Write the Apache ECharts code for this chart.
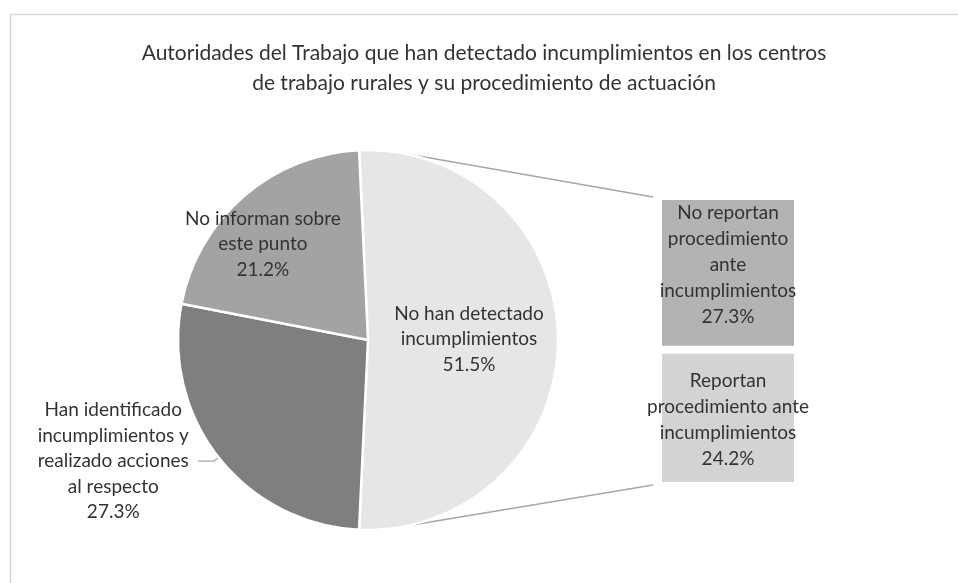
<!DOCTYPE html>
<html>
<head>
<meta charset="utf-8">
<script src="https://cdn.jsdelivr.net/npm/echarts@6/dist/echarts.min.js"></script>
<style>
html,body{margin:0;padding:0;background:#fff;}
#c{width:958px;height:583px;}
</style>
</head>
<body>
<div id="c"></div>
<script>
const titleText = 'Autoridades del Trabajo que han detectado incumplimientos en los centros\nde trabajo rurales y su procedimiento de actuación';
const pieNames = ['No han detectado\nincumplimientos', 'Han identificado\nincumplimientos y\nrealizado acciones\nal respecto', 'No informan sobre\neste punto'];
const pieValues = [51.5, 27.3, 21.2];
const barNames = ['Reportan\nprocedimiento ante\nincumplimientos', 'No reportan\nprocedimiento\nante\nincumplimientos'];
const barValues = [24.2, 27.3];

const FONT = 'Lato';
const TXT = '#333333';
const pieColors = ['#e6e6e6', '#7f7f7f', '#a3a3a3'];
const barColors = ['#d3d3d3', '#b3b3b3'];

const cx = 368, cy = 340, R = 190;
const gLeft = 658, gTop = 196, gW = 140, gH = 290;

const chart = echarts.init(document.getElementById('c'), null, {renderer: 'canvas'});

const pieData = pieValues.map((v, i) => {
  const d = {value: v, name: pieNames[i], itemStyle: {color: pieColors[i]}};
  if (i === 0) {
    d.label = {position: 'inside', offset: [3, -1]};
  } else if (i === 2) {
    d.label = {position: 'inside', offset: [-41, -22]};
  } else {
    d.label = {position: 'outside', distanceToLabelLine: 9};
    d.labelLine = {show: true, length: 6, length2: 16, lineStyle: {color: '#a6a6a6', width: 1.3}};
  }
  return d;
});

const fmtPct = v => v.toFixed(1) + '%';
const borderRect = {type: 'rect', z: -10, shape: {x: 10.5, y: 14.5, width: 960, height: 600}, style: {fill: 'none', stroke: '#d9d9d9', lineWidth: 1.5}};

const option = {
  backgroundColor: '#ffffff',
  animation: false,
  title: {
    text: titleText,
    left: 479,
    top: 33,
    textAlign: 'center',
    textStyle: {fontFamily: FONT, fontWeight: 'normal', fontSize: 21, lineHeight: 30, color: TXT}
  },
  graphic: [borderRect],
  grid: {left: gLeft, top: gTop, width: gW, height: gH},
  xAxis: {type: 'category', data: ['x'], show: false},
  yAxis: {type: 'value', min: 0, max: barValues.reduce((a, b) => a + b, 0), show: false},
  series: [
    {
      type: 'pie',
      center: [cx, cy],
      radius: [0, R],
      startAngle: pieValues[0] * 180 / 100,
      clockwise: true,
      avoidLabelOverlap: false,
      z: 5,
      itemStyle: {borderColor: '#ffffff', borderWidth: 2.5},
      label: {
        fontFamily: FONT, fontSize: 19, lineHeight: 26, color: TXT,
        formatter: p => '{t|' + p.name.split('\n').join('}\n{t|') + '}\n{t|' + fmtPct(p.value) + '}',
        rich: {t: {align: 'center', fontFamily: FONT, fontSize: 19, lineHeight: 25.5, color: TXT}}
      },
      labelLine: {show: false},
      emphasis: {disabled: true},
      data: pieData
    },
    ...barValues.map((v, i) => ({
      type: 'bar',
      stack: 'b',
      barWidth: '100%',
      data: [v],
      name: barNames[i],
      itemStyle: {color: barColors[i], borderColor: '#ffffff', borderWidth: 4},
      label: {
        show: true,
        position: 'inside',
        offset: i === 1 ? [0, -8] : [0, 2],
        fontFamily: FONT, fontSize: 19, lineHeight: 26, color: TXT,
        formatter: () => barNames[i] + '\n' + fmtPct(v)
      },
      emphasis: {disabled: true}
    }))
  ]
};
chart.setOption(option);

// connector lines from the pie's "other" slice to the bar corners
const topBar = chart.convertToPixel({gridIndex: 0}, [0, option.yAxis.max]);
const botBar = chart.convertToPixel({gridIndex: 0}, [0, 0]);
const a1 = 8 * Math.PI / 180, a2 = 12 * Math.PI / 180;
chart.setOption({
  graphic: [
    borderRect,
    {type: 'line', z: 1, shape: {x1: cx + R * Math.sin(a1), y1: cy - R * Math.cos(a1), x2: gLeft - 5, y2: topBar[1] + 1}, style: {stroke: '#a6a6a6', lineWidth: 1.5}},
    {type: 'line', z: 1, shape: {x1: cx + R * Math.sin(a2), y1: cy + R * Math.cos(a2), x2: gLeft - 5, y2: botBar[1] - 1}, style: {stroke: '#a6a6a6', lineWidth: 1.5}}
  ]
});
</script>
</body>
</html>
